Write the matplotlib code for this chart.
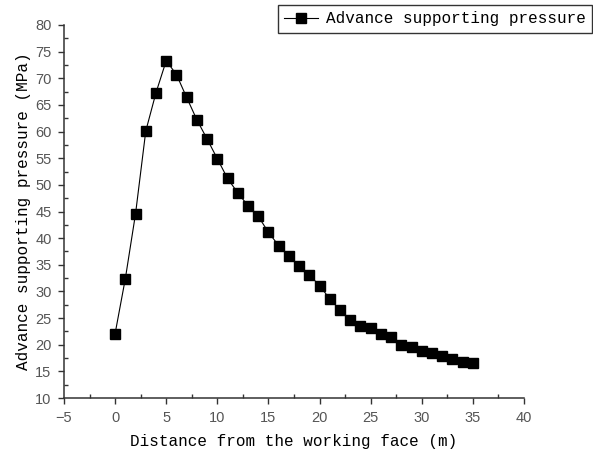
import matplotlib
matplotlib.use("Agg")
import matplotlib.pyplot as plt
from matplotlib.ticker import MultipleLocator

# Distance ahead of the working face (m) and abutment pressure (MPa)
distance = list(range(0, 36))
pressure = [22.1, 32.4, 44.6, 60.1, 67.3, 73.3, 70.7, 66.4, 62.2, 58.6,
            54.9, 51.2, 48.5, 46.1, 44.1, 41.1, 38.6, 36.6, 34.8, 33.1,
            31.1, 28.6, 26.5, 24.6, 23.5, 23.1, 22.1, 21.4, 19.9, 19.5,
            18.8, 18.4, 17.9, 17.3, 16.8, 16.6]

series_label = "Advance supporting pressure"
x_label = "Distance from the working face (m)"
y_label = "Advance supporting pressure (MPa)"

label_font = "Liberation Mono"
tick_font = "Liberation Sans"

fig = plt.figure(figsize=(5.93, 4.57), dpi=100)
ax = fig.add_axes([64 / 593, 1 - 398 / 457, 460 / 593, 373 / 457])

line, = ax.plot(distance, pressure, color="black", lw=0.8, marker="s",
                ms=6.5, mfc="black", mec="black", label=series_label)

ax.set_xlim(-5, 40)
ax.set_ylim(10, 80)
ax.xaxis.set_major_locator(MultipleLocator(5))
ax.xaxis.set_minor_locator(MultipleLocator(2.5))
ax.yaxis.set_major_locator(MultipleLocator(5))
ax.yaxis.set_minor_locator(MultipleLocator(2.5))

for side in ("top", "right"):
    ax.spines[side].set_visible(False)
for side in ("left", "bottom"):
    ax.spines[side].set_linewidth(1.1)
    ax.spines[side].set_color("#333333")

ax.tick_params(which="major", direction="out", length=4, width=1,
               color="#333333", labelsize=10.5, labelcolor="#555555", pad=5)
ax.tick_params(which="minor", direction="in", length=3, width=1,
               color="#333333")
for lab in ax.get_xticklabels() + ax.get_yticklabels():
    lab.set_fontfamily(tick_font)

ax.set_xlabel(x_label, fontsize=11.5, fontfamily=label_font, labelpad=7)
ax.set_ylabel(y_label, fontsize=11.5, fontfamily=label_font, labelpad=3)

leg = fig.legend(handles=[line], loc="upper right",
                 bbox_to_anchor=(592 / 593, 1 - 5 / 457),
                 prop={"family": label_font, "size": 11.5},
                 frameon=True, fancybox=False, handlelength=2.1,
                 handletextpad=0.5, borderpad=0.4, borderaxespad=0)
leg.get_frame().set_edgecolor("black")
leg.get_frame().set_linewidth(1.0)

fig.savefig("out.png", dpi=100)
